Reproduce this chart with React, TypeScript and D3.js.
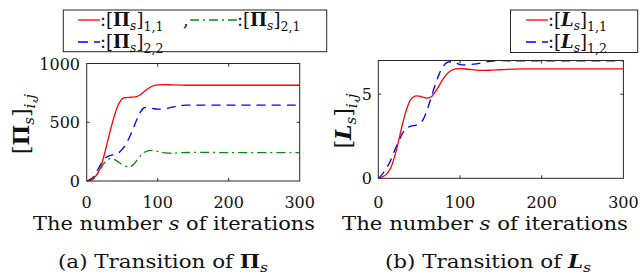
import React from "react";
import * as d3 from "d3";

// ---- Data ----
const piS11 = [0, 5, 10, 15, 20, 25, 30, 35, 40, 45, 50, 55, 60, 65, 70, 75, 80, 85, 90, 95, 100, 110, 120, 140, 160, 200, 250, 300];
const pi11 = [0, 8, 25, 60, 125, 230, 350, 470, 575, 655, 700, 710, 712, 714, 718, 732, 755, 780, 800, 812, 818, 820, 818, 815, 815, 815, 815, 815];

const piS22 = [0, 5, 10, 15, 20, 25, 30, 35, 40, 45, 50, 55, 60, 65, 70, 75, 80, 85, 90, 95, 100, 110, 120, 130, 140, 160, 200, 300];
const pi22 = [0, 15, 40, 90, 145, 190, 210, 220, 228, 240, 270, 310, 370, 440, 515, 580, 620, 628, 622, 615, 612, 615, 628, 640, 645, 645, 645, 645];

const piS21 = [0, 5, 10, 15, 20, 25, 30, 35, 40, 45, 50, 55, 60, 65, 70, 75, 80, 85, 90, 95, 100, 110, 120, 130, 150, 200, 300];
const pi21 = [0, 5, 20, 60, 110, 155, 185, 192, 180, 160, 140, 125, 120, 135, 170, 210, 240, 255, 260, 258, 252, 240, 236, 240, 243, 242, 242];

const lS11 = [0, 5, 10, 15, 20, 25, 30, 35, 40, 45, 50, 55, 60, 65, 70, 75, 80, 85, 90, 95, 100, 110, 120, 135, 150, 175, 200, 300];
const l11 = [0, 0.08, 0.25, 0.6, 1.3, 2.25, 3.3, 4.15, 4.7, 4.88, 4.88, 4.82, 4.77, 4.85, 5.15, 5.55, 5.95, 6.25, 6.42, 6.5, 6.52, 6.48, 6.43, 6.42, 6.45, 6.5, 6.5, 6.5];

const lS12 = [0, 5, 10, 15, 20, 25, 30, 35, 40, 45, 50, 55, 60, 65, 70, 75, 80, 85, 90, 95, 100, 110, 120, 130, 145, 170, 300];
const l12 = [0, 0.25, 0.6, 1.05, 1.65, 2.2, 2.7, 3.0, 3.1, 3.15, 3.22, 3.5, 4.1, 4.85, 5.6, 6.25, 6.7, 6.9, 6.92, 6.85, 6.76, 6.75, 6.8, 6.9, 6.98, 6.98, 6.98];

const xTicks = [0, 100, 200, 300];
const piYTicks = [0, 500, 1000];
const lYTicks = [0, 5];

const FONT = "DejaVu Serif";
const AX = "#262626";

type Pt = [number, number];
const zip = (xs: number[], ys: number[]): Pt[] => xs.map((x, i) => [x, ys[i]]);

function Panel({ x0, x1, yTop, yBot, yMax, yTicks, series, yTickX }: any) {
  const xs = d3.scaleLinear().domain([0, 300]).range([x0, x1]);
  const ys = d3.scaleLinear().domain([0, yMax]).range([yBot, yTop]);
  const line = d3
    .line<Pt>()
    .x((d) => xs(d[0]))
    .y((d) => ys(d[1]))
    .curve(d3.curveCatmullRom.alpha(0.5));
  return (
    <g>
      <defs>
        <clipPath id={`clip${Math.round(x0)}`}>
          <rect x={x0} y={yTop - 2} width={x1 - x0} height={yBot - yTop + 4} />
        </clipPath>
      </defs>
      <g clipPath={`url(#clip${Math.round(x0)})`}>
        {series.map((s: any, i: number) => (
          <path key={i} d={line(s.data) || ""} fill="none" stroke={s.color} strokeWidth={1.3} strokeDasharray={s.dash} />
        ))}
      </g>
      <rect x={x0} y={yTop} width={x1 - x0} height={yBot - yTop} fill="none" stroke={AX} strokeWidth={1} />
      {xTicks.slice(1, -1).map((t) => (
        <g key={t}>
          <line x1={xs(t)} x2={xs(t)} y1={yBot} y2={yBot - 3} stroke={AX} />
          <line x1={xs(t)} x2={xs(t)} y1={yTop} y2={yTop + 3} stroke={AX} />
        </g>
      ))}
      {yTicks.filter((t: number) => t > 0 && t < yMax).map((t: number) => (
        <g key={t}>
          <line x1={x0} x2={x0 + 3} y1={ys(t)} y2={ys(t)} stroke={AX} />
          <line x1={x1} x2={x1 - 3} y1={ys(t)} y2={ys(t)} stroke={AX} />
        </g>
      ))}
      {xTicks.map((t) => (
        <text key={t} x={xs(t)} y={208} textAnchor="middle" fontFamily={FONT} fontSize={16} fill="#111">
          {t}
        </text>
      ))}
      {yTicks.map((t: number) => (
        <text key={t} x={yTickX} y={ys(t) + 6} textAnchor="end" fontFamily={FONT} fontSize={16} fill="#111">
          {t}
        </text>
      ))}
    </g>
  );
}

function MathLabel({ sym, italic, sub, subItalic, sh = 4, sh2 = 5 }: any) {
  // renders [SYM_s]_{sub}
  return (
    <>
      <tspan>[</tspan>
      <tspan fontWeight="bold" fontStyle={italic ? "italic" : "normal"}>{sym}</tspan>
      <tspan fontStyle="italic" fontSize="0.68em" dy={sh}>s</tspan>
      <tspan dy={-sh}>]</tspan>
      <tspan fontSize="0.7em" dy={sh2} fontStyle={subItalic ? "italic" : "normal"}>{sub}</tspan>
    </>
  );
}

export default function App() {
  const red = "#ff0000";
  const blue = "#0000ff";
  const green = "#0c8a0c";
  const dashed = "9,6";
  const dashdot = "9,4,2,4";
  const LF = 18;
  return (
    <svg width={640} height={277} style={{ position: "absolute", left: 0, top: 0, background: "#fff" }} fontFamily={FONT}>
      <rect width={640} height={277} fill="#fff" />
      {/* Left panel */}
      <Panel
        x0={86.7}
        x1={299.7}
        yTop={63.5}
        yBot={181}
        yMax={1000}
        yTicks={piYTicks}
        yTickX={80}
        series={[
          { data: zip(piS21, pi21), color: green, dash: dashdot },
          { data: zip(piS22, pi22), color: blue, dash: dashed },
          { data: zip(piS11, pi11), color: red, dash: null },
        ]}
      />
      {/* Right panel */}
      <Panel
        x0={378.3}
        x1={623.4}
        yTop={60.5}
        yBot={178.3}
        yMax={7}
        yTicks={lYTicks}
        yTickX={372}
        series={[
          { data: zip(lS12, l12), color: blue, dash: dashed },
          { data: zip(lS11, l11), color: red, dash: null },
        ]}
      />

      {/* Left legend */}
      <rect x={63.3} y={10} width={263.4} height={41.7} fill="#fff" stroke={AX} strokeWidth={1} />
      <line x1={78} x2={100} y1={20} y2={20} stroke={red} strokeWidth={1.3} />
      <text x={100} y={26} fontSize={LF} fill="#111">
        <tspan>:</tspan>
        <MathLabel sym="Π" sub="1,1" />
      </text>
      <text x={183} y={26} fontSize={LF} fill="#111">,</text>
      <line x1={190} x2={237} y1={20} y2={20} stroke={green} strokeWidth={1.3} strokeDasharray={dashdot} />
      <text x={237} y={26} fontSize={LF} fill="#111">
        <tspan>:</tspan>
        <MathLabel sym="Π" sub="2,1" />
      </text>
      <line x1={78} x2={100} y1={42} y2={42} stroke={blue} strokeWidth={1.3} strokeDasharray="10,6" />
      <text x={100} y={48} fontSize={LF} fill="#111">
        <tspan>:</tspan>
        <MathLabel sym="Π" sub="2,2" />
      </text>

      {/* Right legend */}
      <rect x={510.5} y={10} width={127.2} height={42.5} fill="#fff" stroke={AX} strokeWidth={1} />
      <line x1={526} x2={548} y1={20} y2={20} stroke={red} strokeWidth={1.3} />
      <text x={548} y={26} fontSize={LF} fill="#111">
        <tspan>:</tspan>
        <MathLabel sym="L" italic sub="1,1" />
      </text>
      <line x1={526} x2={548} y1={42} y2={42} stroke={blue} strokeWidth={1.3} strokeDasharray="10,6" />
      <text x={548} y={48} fontSize={LF} fill="#111">
        <tspan>:</tspan>
        <MathLabel sym="L" italic sub="1,2" />
      </text>

      {/* Y labels */}
      <text transform="translate(29,124) rotate(-90)" textAnchor="middle" fontSize={22} fill="#111">
        <MathLabel sym="Π" sub="i,j" subItalic sh={5} sh2={6} />
      </text>
      <text transform="translate(351,121) rotate(-90)" textAnchor="middle" fontSize={22} fill="#111">
        <MathLabel sym="L" italic sub="i,j" subItalic sh={5} sh2={6} />
      </text>

      {/* X labels */}
      <text x={174} y={230} textAnchor="middle" fontSize={18} fill="#111" textLength={282} lengthAdjust="spacingAndGlyphs">
        The number <tspan fontStyle="italic">s</tspan> of iterations
      </text>
      <text x={485} y={230} textAnchor="middle" fontSize={18} fill="#111" textLength={286} lengthAdjust="spacingAndGlyphs">
        The number <tspan fontStyle="italic">s</tspan> of iterations
      </text>

      {/* Captions */}
      <text x={163} y={268} textAnchor="middle" fontSize={18} fill="#111" textLength={210} lengthAdjust="spacingAndGlyphs">
        (a) Transition of <tspan fontWeight="bold">Π</tspan>
        <tspan fontStyle="italic" fontSize={13} dy={4}>s</tspan>
      </text>
      <text x={488} y={268} textAnchor="middle" fontSize={18} fill="#111" textLength={206} lengthAdjust="spacingAndGlyphs">
        (b) Transition of <tspan fontWeight="bold" fontStyle="italic">L</tspan>
        <tspan fontStyle="italic" fontSize={13} dy={4}>s</tspan>
      </text>
    </svg>
  );
}
